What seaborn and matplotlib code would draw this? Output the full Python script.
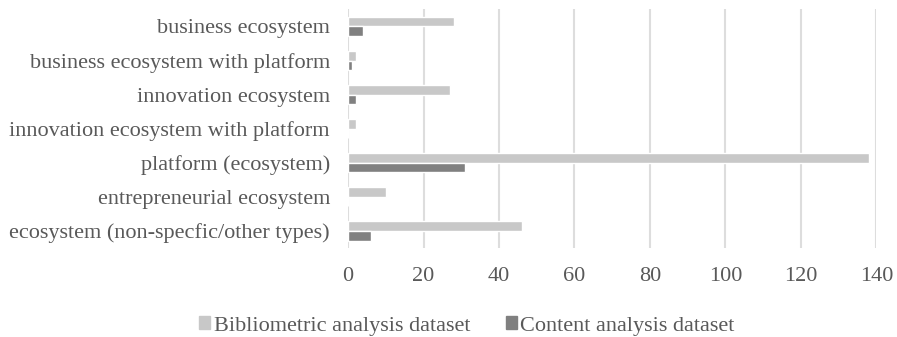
import matplotlib
matplotlib.use("Agg")
import matplotlib.pyplot as plt
import seaborn as sns
import pandas as pd

categories = [
    "business ecosystem",
    "business ecosystem with platform",
    "innovation ecosystem",
    "innovation ecosystem with platform",
    "platform (ecosystem)",
    "entrepreneurial ecosystem",
    "ecosystem (non-specfic/other types)",
]
bibliometric = [28, 2, 27, 2, 138, 10, 46]
content = [4, 1, 2, 0, 31, 0, 6]
series_names = ["Bibliometric analysis dataset", "Content analysis dataset"]
ticks = [0, 20, 40, 60, 80, 100, 120, 140]

df = pd.DataFrame({
    "category": categories * 2,
    "value": bibliometric + content,
    "series": [series_names[0]] * len(categories) + [series_names[1]] * len(categories),
})

sns.set_theme(style="white")
plt.rcParams["font.family"] = ["Liberation Serif", "DejaVu Serif"]

text_color = "#595959"
fs = 16
palette = {series_names[0]: "#C8C8C8", series_names[1]: "#808080"}

fig = plt.figure(figsize=(8.97, 3.37), dpi=100)
ax = fig.add_axes([0.388, 0.264, 0.589, 0.708])

sns.barplot(data=df, y="category", x="value", hue="series", order=categories,
            hue_order=series_names, palette=palette, width=0.56, gap=0,
            saturation=1, orient="h", ax=ax, legend=True)

ax.set_xlim(0, 140)
ax.set_ylim(len(categories) - 0.5, -0.5)
ax.set_xticks(ticks)
ax.set_xticklabels([str(t) for t in ticks])
ax.xaxis.grid(True, color="#DDDDDD", linewidth=1.5)
ax.set_axisbelow(True)
for s in ax.spines.values():
    s.set_visible(False)
ax.set_xlabel("")
ax.set_ylabel("")
ax.tick_params(axis="x", length=0, pad=14, labelsize=fs, labelcolor=text_color)
ax.tick_params(axis="y", length=0, pad=13, labelsize=fs, labelcolor=text_color)

ax.legend_.remove()
handles = [plt.Rectangle((0, 0), 1, 1, color=palette[n]) for n in series_names]
fig.legend(handles, series_names, loc="center", bbox_to_anchor=(467 / 897, 1 - 326 / 337),
           ncol=2, frameon=False, fontsize=fs, labelcolor=text_color,
           handlelength=0.5, handleheight=0.5, handletextpad=0.15, columnspacing=1.6)

fig.savefig("out.png", dpi=100)
